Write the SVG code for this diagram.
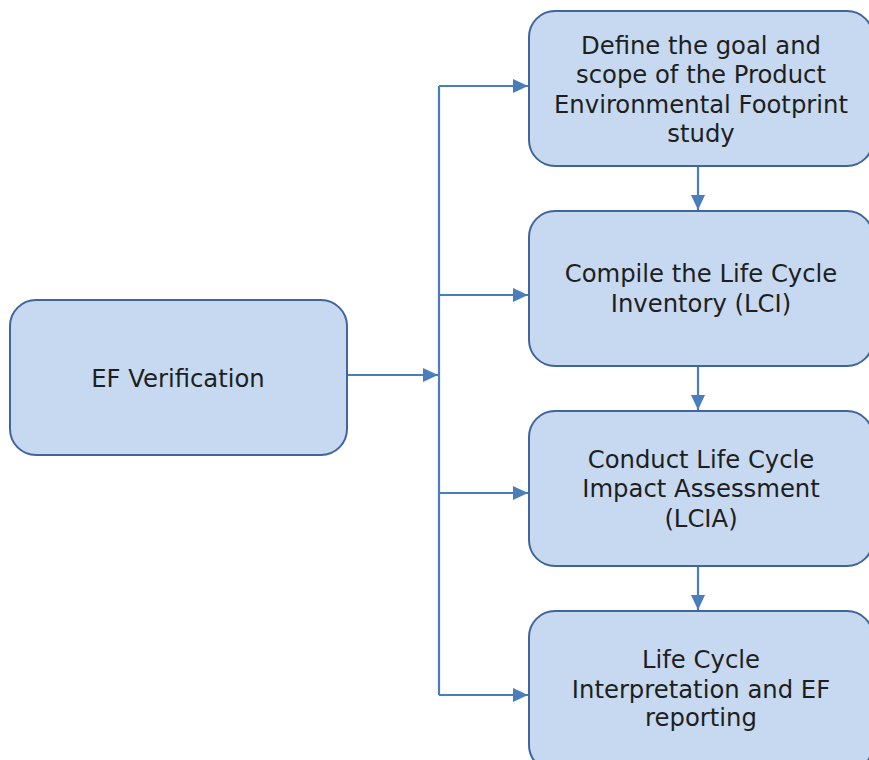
<svg xmlns="http://www.w3.org/2000/svg" width="869" height="760" viewBox="0 0 869 760">
<style>
.box{fill:#C6D9F0;stroke:#41659B;stroke-width:2}
.lbl{font-family:"DejaVu Sans",Verdana,sans-serif;font-size:24.3px;fill:#1E1E1E;text-anchor:middle}
.con{fill:none;stroke:#4A7EBB;stroke-width:2.2}
</style>
<defs>
<marker id="ah" markerWidth="15" markerHeight="14" refX="15" refY="7" orient="auto" markerUnits="userSpaceOnUse">
<path d="M0,0 L15,7 L0,14 Z" fill="#4A7EBB"/>
</marker>
</defs>
<rect width="869" height="760" fill="#FFFFFF"/>
<g id="connectors">
<path class="con" d="M439,86 L439,695"/>
<path class="con" d="M347,375 L438,375" marker-end="url(#ah)"/>
<path class="con" d="M439,86 L528,86" marker-end="url(#ah)"/>
<path class="con" d="M439,295 L528,295" marker-end="url(#ah)"/>
<path class="con" d="M439,493 L528,493" marker-end="url(#ah)"/>
<path class="con" d="M439,695 L528,695" marker-end="url(#ah)"/>
<path class="con" d="M698,166 L698,210" marker-end="url(#ah)"/>
<path class="con" d="M698,366 L698,410" marker-end="url(#ah)"/>
<path class="con" d="M698,566 L698,610" marker-end="url(#ah)"/>
</g>
<g id="ef-verification">
<rect class="box" x="10" y="300" width="337" height="155" rx="26"/>
<text class="lbl" x="178" y="387">EF Verification</text>
</g>
<g id="goal-scope">
<rect class="box" x="529" y="11" width="344" height="155" rx="26"/>
<text class="lbl" x="701" y="54">Define the goal and</text>
<text class="lbl" x="701" y="83">scope of the Product</text>
<text class="lbl" x="701" y="113">Environmental Footprint</text>
<text class="lbl" x="701" y="142">study</text>
</g>
<g id="lci">
<rect class="box" x="529" y="211" width="344" height="155" rx="26"/>
<text class="lbl" x="701" y="282">Compile the Life Cycle</text>
<text class="lbl" x="701" y="312">Inventory (LCI)</text>
</g>
<g id="lcia">
<rect class="box" x="529" y="411" width="344" height="155" rx="26"/>
<text class="lbl" x="701" y="468">Conduct Life Cycle</text>
<text class="lbl" x="701" y="497">Impact Assessment</text>
<text class="lbl" x="701" y="527">(LCIA)</text>
</g>
<g id="interpretation">
<rect class="box" x="529" y="611" width="344" height="160" rx="26"/>
<text class="lbl" x="701" y="668">Life Cycle</text>
<text class="lbl" x="701" y="698">Interpretation and EF</text>
<text class="lbl" x="701" y="726">reporting</text>
</g>
</svg>
